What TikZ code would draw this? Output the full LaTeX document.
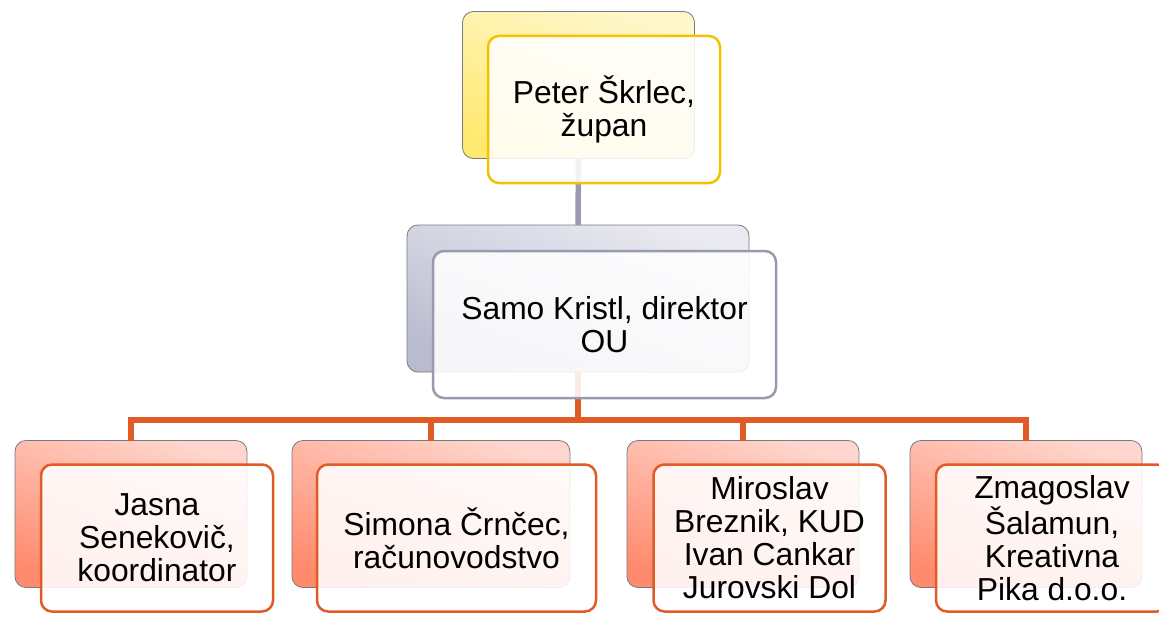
\documentclass[tikz,border=0pt]{standalone}
\usepackage{fontspec}
\setmainfont{Liberation Sans}
\usepackage{xcolor}
\definecolor{yeltop}{HTML}{FFF7CC}
\definecolor{yelbot}{HTML}{FFE970}
\definecolor{yeledge}{HTML}{F5C200}
\definecolor{bluetop}{HTML}{E9EAF2}
\definecolor{bluebot}{HTML}{B9BBCE}
\definecolor{blueedge}{HTML}{9A9AAE}
\definecolor{redtop}{HTML}{FFD6CD}
\definecolor{redbot}{HTML}{FF8B6E}
\definecolor{rededge}{HTML}{E05B25}
\definecolor{backedge}{HTML}{7A7A80}

\begin{document}
\begin{tikzpicture}[x=1pt, y=-1pt,
    box/.style={rounded corners=11pt, minimum width=232pt, minimum height=147pt,
      inner sep=0pt, outer sep=0pt, align=center,
      font=\fontsize{31.8}{33}\selectfont},
    backbox/.style 2 args={box, draw=backedge, line width=0.8pt, top color=#1, bottom color=#2, shading angle=-20},
    frontbox/.style={box, draw=#1, line width=2.5pt, fill=white, fill opacity=0.88, text opacity=1},
    link/.style={draw=#1, line width=5.5pt}]
  \path[use as bounding box, clip] (0,0) rectangle (1159,623);

  % back boxes
  \node[backbox={yeltop}{yelbot}] (topb) at (578.5,85) {};
  \node[backbox={bluetop}{bluebot}, minimum width=342pt] (midb) at (578,298.5) {};
  \node[backbox={redtop}{redbot}] (b1b) at (131,514) {};
  \node[backbox={redtop}{redbot}, minimum width=278pt] (b2b) at (431,514) {};
  \node[backbox={redtop}{redbot}] (b3b) at (743,514) {};
  \node[backbox={redtop}{redbot}] (b4b) at (1026,514) {};
  \coordinate (bar) at (578,420);

  % connectors
  \draw[link=blueedge] (topb.south) -- (midb.north);
  \draw[link=rededge] (midb.south) -- (midb.south |- bar);
  \draw[link=rededge] (b1b.north) |- (bar) -| (b4b.north);
  \draw[link=rededge] (b2b.north) -- (b2b.north |- bar);
  \draw[link=rededge] (b3b.north) -- (b3b.north |- bar);

  % front boxes
  \node[frontbox=yeledge] (top) at (604,109.5) {Peter Škrlec,\\župan};
  \node[frontbox=blueedge, minimum width=343pt] (mid) at (604.5,324.5) {Samo Kristl, direktor\\OU};
  \node[frontbox=rededge] (b1) at (157,538) {Jasna\\Senekovič,\\koordinator};
  \node[frontbox=rededge, minimum width=279pt] (b2) at (456.5,538) {Simona Črnčec,\\računovodstvo};
  \node[frontbox=rededge] (b3) at (769.5,538) {Miroslav\\Breznik, KUD\\Ivan Cankar\\Jurovski Dol};
  \node[frontbox=rededge] (b4) at (1052,538) {Zmagoslav\\Šalamun,\\Kreativna\\Pika d.o.o.};
\end{tikzpicture}
\end{document}
